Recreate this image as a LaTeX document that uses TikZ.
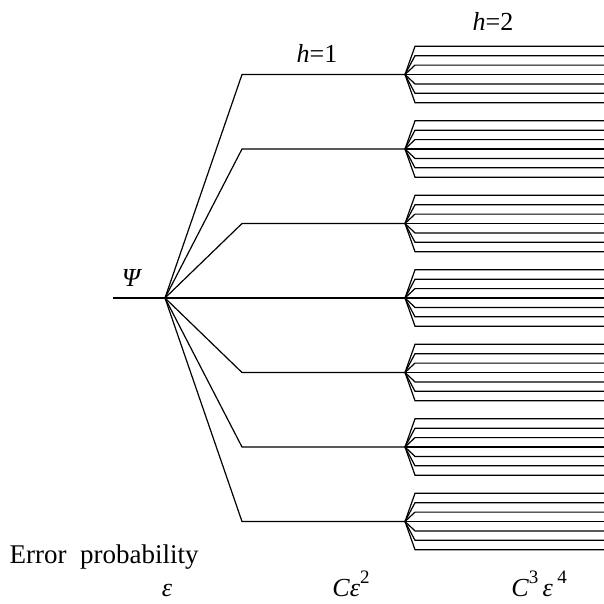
\documentclass[tikz,border=0pt]{standalone}
\usepackage{fontspec}
\setmainfont{Liberation Serif}
\newcommand{\supx}[1]{\raisebox{0.5em}{\fontsize{19}{19}\selectfont #1}}
\begin{document}
\begin{tikzpicture}[x=1pt,y=-1pt, line width=1.2pt, line join=miter,
  lbl/.style={inner sep=0pt, font=\fontsize{26}{30}\selectfont}]
\useasboundingbox (0,0) rectangle (604,603);
\coordinate (in) at (113,298);
\coordinate (root) at (165,298);
\draw (in) -- (root);
\foreach \i in {0,...,6} {
  \pgfmathsetmacro{\yy}{298+74.5*(\i-3)}
  \coordinate (k\i) at (242,\yy);
  \coordinate (h\i) at (405,\yy);
  \draw (root) -- (k\i) -- (h\i);
  \foreach \j in {0,...,6} {
    \pgfmathsetmacro{\zz}{\yy+9.4*(\j-3)}
    \coordinate (k\i x\j) at (415,\zz);
    \coordinate (e\i x\j) at (604,\zz);
    \draw (h\i) -- (k\i x\j) -- (e\i x\j);
  }
}
\node[lbl, anchor=base] (psi) at (132,286) {\textit{Ψ}};
\node[lbl, anchor=base] (h1) at (317,62) {\textit{h}=1};
\node[lbl, anchor=base] (h2) at (493,30) {\textit{h}=2};
\node[lbl, anchor=base west, font=\fontsize{27}{30}\selectfont] (ep) at (9,563) {Error\ \ probability};
\node[lbl, anchor=base] (p1) at (167,596) {\textit{ε}};
\node[lbl, anchor=base] (p2) at (351,596) {\textit{Cε}\supx{2}};
\node[lbl, anchor=base] (p3) at (539,596) {\textit{C}\supx{3}\,\textit{ε}\,\supx{4}};
\end{tikzpicture}
\end{document}
